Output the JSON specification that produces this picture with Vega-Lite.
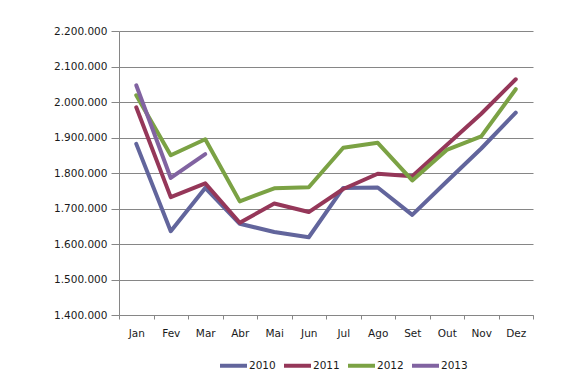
{
  "$schema": "https://vega.github.io/schema/vega-lite/v6.json",
  "width": 414,
  "height": 284,
  "autosize": {"type": "none"},
  "padding": {"left": 119, "top": 31, "right": 39, "bottom": 77},
  "background": "white",
  "config": {
    "locale": {"number": {"decimal": ",", "thousands": ".", "grouping": [3], "currency": ["R$", ""]}},
    "view": {"stroke": null},
    "font": "DejaVu Sans",
    "axis": {"labelFont": "DejaVu Sans", "labelFontSize": 10.5, "labelColor": "#1a1a1a", "domainColor": "#868686", "tickColor": "#868686", "gridColor": "#868686", "domainWidth": 1, "tickWidth": 1, "gridWidth": 1}
  },
  "data": {
    "values": [
      {"mes": "Jan", "ano": "2010", "valor": 1882000},
      {"mes": "Fev", "ano": "2010", "valor": 1636000},
      {"mes": "Mar", "ano": "2010", "valor": 1758000},
      {"mes": "Abr", "ano": "2010", "valor": 1657000},
      {"mes": "Mai", "ano": "2010", "valor": 1634000},
      {"mes": "Jun", "ano": "2010", "valor": 1619000},
      {"mes": "Jul", "ano": "2010", "valor": 1758000},
      {"mes": "Ago", "ano": "2010", "valor": 1759000},
      {"mes": "Set", "ano": "2010", "valor": 1682000},
      {"mes": "Out", "ano": "2010", "valor": 1776000},
      {"mes": "Nov", "ano": "2010", "valor": 1869000},
      {"mes": "Dez", "ano": "2010", "valor": 1970000},
      {"mes": "Jan", "ano": "2011", "valor": 1985000},
      {"mes": "Fev", "ano": "2011", "valor": 1732000},
      {"mes": "Mar", "ano": "2011", "valor": 1771000},
      {"mes": "Abr", "ano": "2011", "valor": 1660000},
      {"mes": "Mai", "ano": "2011", "valor": 1714000},
      {"mes": "Jun", "ano": "2011", "valor": 1690000},
      {"mes": "Jul", "ano": "2011", "valor": 1755000},
      {"mes": "Ago", "ano": "2011", "valor": 1798000},
      {"mes": "Set", "ano": "2011", "valor": 1791000},
      {"mes": "Out", "ano": "2011", "valor": 1879000},
      {"mes": "Nov", "ano": "2011", "valor": 1967000},
      {"mes": "Dez", "ano": "2011", "valor": 2064000},
      {"mes": "Jan", "ano": "2012", "valor": 2019000},
      {"mes": "Fev", "ano": "2012", "valor": 1850000},
      {"mes": "Mar", "ano": "2012", "valor": 1895000},
      {"mes": "Abr", "ano": "2012", "valor": 1720000},
      {"mes": "Mai", "ano": "2012", "valor": 1757000},
      {"mes": "Jun", "ano": "2012", "valor": 1760000},
      {"mes": "Jul", "ano": "2012", "valor": 1871000},
      {"mes": "Ago", "ano": "2012", "valor": 1885000},
      {"mes": "Set", "ano": "2012", "valor": 1779000},
      {"mes": "Out", "ano": "2012", "valor": 1865000},
      {"mes": "Nov", "ano": "2012", "valor": 1903000},
      {"mes": "Dez", "ano": "2012", "valor": 2036000},
      {"mes": "Jan", "ano": "2013", "valor": 2047000},
      {"mes": "Fev", "ano": "2013", "valor": 1786000},
      {"mes": "Mar", "ano": "2013", "valor": 1853000}
    ]
  },
  "mark": {"type": "line", "strokeWidth": 4, "strokeCap": "round", "strokeJoin": "round"},
  "encoding": {
    "x": {
      "field": "mes",
      "type": "ordinal",
      "sort": ["Jan", "Fev", "Mar", "Abr", "Mai", "Jun", "Jul", "Ago", "Set", "Out", "Nov", "Dez"],
      "scale": {"type": "band", "paddingInner": 0, "paddingOuter": 0},
      "axis": {"title": null, "labelAngle": 0, "tickBand": "extent", "tickSize": 4, "labelPadding": 9, "grid": false}
    },
    "y": {
      "field": "valor",
      "type": "quantitative",
      "scale": {"domain": [1400000, 2200000], "nice": false, "zero": false},
      "axis": {"title": null, "values": [1400000, 1500000, 1600000, 1700000, 1800000, 1900000, 2000000, 2100000, 2200000], "format": ",d", "tickSize": 8, "labelPadding": 4, "grid": true}
    },
    "color": {
      "field": "ano",
      "type": "nominal",
      "scale": {"domain": ["2010", "2011", "2012", "2013"], "range": ["#62659C", "#953759", "#7BA244", "#8163A1"]},
      "legend": {
        "title": null,
        "orient": "none",
        "direction": "horizontal",
        "legendX": 99,
        "legendY": 319,
        "symbolType": "stroke",
        "symbolStrokeWidth": 4,
        "symbolSize": 729,
        "labelFont": "DejaVu Sans",
        "labelFontSize": 10.5,
        "labelColor": "#1a1a1a",
        "labelOffset": 0,
        "columnPadding": 0,
        "padding": 0
      }
    }
  }
}
